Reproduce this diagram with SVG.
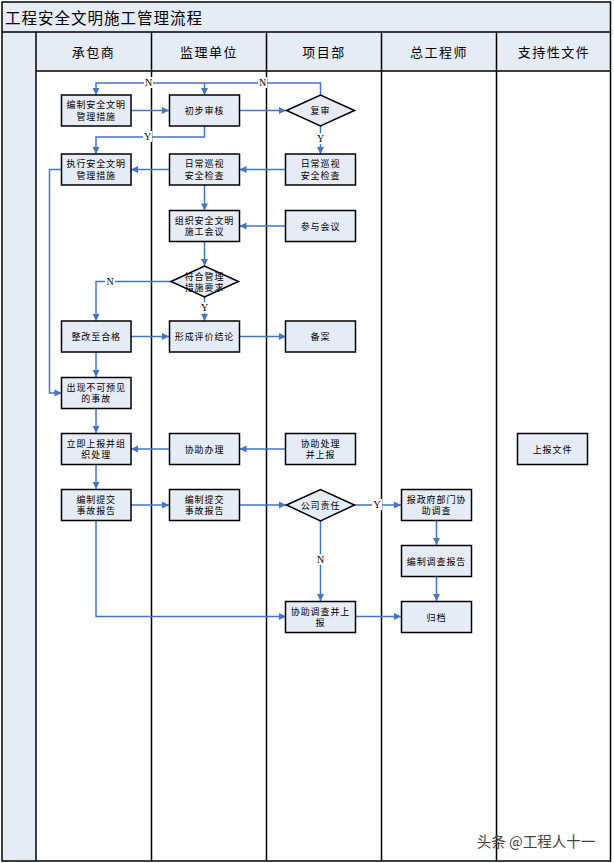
<svg xmlns="http://www.w3.org/2000/svg" width="614" height="863" viewBox="0 0 614 863">
<style>
.bg{fill:#e5ecf6}
.ln{stroke:#000;stroke-width:1.5;fill:none}
.box{fill:#e5ecf6;stroke:#000;stroke-width:1.5}
.bt{font-family:"Noto Sans CJK SC","Noto Sans",sans-serif;font-size:9px;fill:#000;text-anchor:middle;dominant-baseline:central;letter-spacing:0.9px}
.hd{font-family:"Noto Sans CJK SC","Noto Sans",sans-serif;font-size:13px;fill:#000;text-anchor:middle;dominant-baseline:central;letter-spacing:1.5px}
.c{stroke:#4574c4;stroke-width:1.5;fill:none}
.lb{font-family:"Liberation Serif",serif;font-size:10px;fill:#000;text-anchor:middle;dominant-baseline:central}
.lbg{fill:#fff}
</style>
<defs>
<marker id="ar" markerUnits="userSpaceOnUse" markerWidth="10" markerHeight="10" refX="8" refY="5" orient="auto">
<path d="M1,1.5 L8,5 L1,8.5 Z" fill="#4574c4"/>
</marker>
</defs>
<rect x="0" y="0" width="614" height="863" fill="#fff"/>
<g id="frame">
<rect class="bg" x="2" y="2" width="608.5" height="30"/>
<rect class="bg" x="2" y="32" width="34" height="829"/>
<rect class="bg" x="36" y="32" width="574.5" height="39"/>
<rect class="ln" x="2" y="2" width="608.5" height="859" stroke-width="2"/>
<line class="ln" x1="2" y1="32" x2="610.5" y2="32" stroke-width="2"/>
<line class="ln" x1="36" y1="71" x2="610.5" y2="71"/>
<line class="ln" x1="36" y1="32" x2="36" y2="861"/>
<line class="ln" x1="151.5" y1="32" x2="151.5" y2="861"/>
<line class="ln" x1="266.5" y1="32" x2="266.5" y2="861"/>
<line class="ln" x1="381.5" y1="32" x2="381.5" y2="861"/>
<line class="ln" x1="496.5" y1="32" x2="496.5" y2="861"/>
<text x="5" y="17" font-family="'Noto Sans CJK SC','Noto Sans',sans-serif" font-size="15.5" letter-spacing="1" dominant-baseline="central">工程安全文明施工管理流程</text>
<text class="hd" x="93.5" y="51.5">承包商</text>
<text class="hd" x="209" y="51.5">监理单位</text>
<text class="hd" x="324" y="51.5">项目部</text>
<text class="hd" x="439" y="51.5">总工程师</text>
<text class="hd" x="554" y="51.5">支持性文件</text>
</g>
<g id="connectors">
<path class="c" d="M320.5,95 V83 H96 V95" marker-end="url(#ar)"/>
<path class="c" d="M204.5,83 V95" marker-end="url(#ar)"/>
<path class="c" d="M131,110.5 H169" marker-end="url(#ar)"/>
<path class="c" d="M239.5,110.5 H286" marker-end="url(#ar)"/>
<path class="c" d="M204.5,126 V137 H96 V154" marker-end="url(#ar)"/>
<path class="c" d="M320.5,126 V154" marker-end="url(#ar)"/>
<path class="c" d="M286,169.5 H239.5" marker-end="url(#ar)"/>
<path class="c" d="M169,169.5 H131" marker-end="url(#ar)"/>
<path class="c" d="M204.5,185 V210.5" marker-end="url(#ar)"/>
<path class="c" d="M286,226 H239.5" marker-end="url(#ar)"/>
<path class="c" d="M204.5,241 V266" marker-end="url(#ar)"/>
<path class="c" d="M171,281.5 H96 V321" marker-end="url(#ar)"/>
<path class="c" d="M204.5,297 V321" marker-end="url(#ar)"/>
<path class="c" d="M131,336.5 H169" marker-end="url(#ar)"/>
<path class="c" d="M239.5,336.5 H286" marker-end="url(#ar)"/>
<path class="c" d="M96,352 V377" marker-end="url(#ar)"/>
<path class="c" d="M61.5,169.5 H49.5 V393 H61.5" marker-end="url(#ar)"/>
<path class="c" d="M96,408.5 V433" marker-end="url(#ar)"/>
<path class="c" d="M286,449 H239.5" marker-end="url(#ar)"/>
<path class="c" d="M169,449 H131" marker-end="url(#ar)"/>
<path class="c" d="M96,464.5 V489" marker-end="url(#ar)"/>
<path class="c" d="M131,505 H169" marker-end="url(#ar)"/>
<path class="c" d="M239.5,505 H286" marker-end="url(#ar)"/>
<path class="c" d="M354.5,505 H401" marker-end="url(#ar)"/>
<path class="c" d="M320.5,521 V601" marker-end="url(#ar)"/>
<path class="c" d="M436.5,521 V545" marker-end="url(#ar)"/>
<path class="c" d="M436.5,577 V601" marker-end="url(#ar)"/>
<path class="c" d="M96,521 V616.5 H286" marker-end="url(#ar)"/>
<path class="c" d="M355,616.5 H401" marker-end="url(#ar)"/>
<rect class="lbg" x="144" y="77" width="9" height="11"/><text class="lb" x="148.5" y="82.5">N</text>
<rect class="lbg" x="258" y="77" width="9" height="11"/><text class="lb" x="262.5" y="82.5">N</text>
<rect class="lbg" x="143" y="131" width="9" height="11"/><text class="lb" x="147.5" y="136.5">Y</text>
<rect class="lbg" x="316" y="133" width="9" height="11"/><text class="lb" x="320.5" y="138.5">Y</text>
<rect class="lbg" x="105" y="276" width="10" height="11"/><text class="lb" x="110" y="281.5">N</text>
<rect class="lbg" x="200" y="302" width="9" height="11"/><text class="lb" x="204.5" y="307.5">Y</text>
<rect class="lbg" x="372" y="499" width="10" height="11"/><text class="lb" x="377" y="504.5">Y</text>
<rect class="lbg" x="316" y="554" width="9" height="11"/><text class="lb" x="320.5" y="559.5">N</text>
</g>
<g id="n1"><rect class="box" x="61.5" y="95" width="69.5" height="31"/><text class="bt" x="96.2" y="104.5">编制安全文明</text><text class="bt" x="96.2" y="116">管理措施</text></g>
<g id="n2"><rect class="box" x="169.5" y="95" width="70" height="31"/><text class="bt" x="204.5" y="110.5">初步审核</text></g>
<g id="n3"><path class="box" d="M286.5,110.5 L320.5,95 L354.5,110.5 L320.5,126 Z"/><text class="bt" x="320.5" y="110.5">复审</text></g>
<g id="n4"><rect class="box" x="61.5" y="154" width="69.5" height="31"/><text class="bt" x="96.2" y="163.5">执行安全文明</text><text class="bt" x="96.2" y="175">管理措施</text></g>
<g id="n5"><rect class="box" x="169.5" y="154" width="70" height="31"/><text class="bt" x="204.5" y="163.5">日常巡视</text><text class="bt" x="204.5" y="175">安全检查</text></g>
<g id="n6"><rect class="box" x="285.5" y="154" width="70" height="31"/><text class="bt" x="320.5" y="163.5">日常巡视</text><text class="bt" x="320.5" y="175">安全检查</text></g>
<g id="n7"><rect class="box" x="169.5" y="210.5" width="70" height="31"/><text class="bt" x="204.5" y="220">组织安全文明</text><text class="bt" x="204.5" y="231.5">施工会议</text></g>
<g id="n8"><rect class="box" x="285.5" y="210.5" width="70" height="31"/><text class="bt" x="320.5" y="226">参与会议</text></g>
<g id="n9"><path class="box" d="M171,281.5 L204.5,266 L238.5,281.5 L204.5,297 Z"/><text class="bt" x="204.5" y="276">符合管理</text><text class="bt" x="204.5" y="287.5">措施要求</text></g>
<g id="n10"><rect class="box" x="61.5" y="321" width="69.5" height="31"/><text class="bt" x="96.2" y="336.5">整改至合格</text></g>
<g id="n11"><rect class="box" x="169.5" y="321" width="70" height="31"/><text class="bt" x="204.5" y="336.5">形成评价结论</text></g>
<g id="n12"><rect class="box" x="285.5" y="321" width="70" height="31"/><text class="bt" x="320.5" y="336.5">备案</text></g>
<g id="n13"><rect class="box" x="61.5" y="377.5" width="69.5" height="31"/><text class="bt" x="96.2" y="387">出现不可预见</text><text class="bt" x="96.2" y="398.5">的事故</text></g>
<g id="n14"><rect class="box" x="61.5" y="433.5" width="69.5" height="31"/><text class="bt" x="96.2" y="443">立即上报并组</text><text class="bt" x="96.2" y="454.5">织处理</text></g>
<g id="n15"><rect class="box" x="169.5" y="433.5" width="70" height="31"/><text class="bt" x="204.5" y="449">协助办理</text></g>
<g id="n16"><rect class="box" x="285.5" y="433.5" width="70" height="31"/><text class="bt" x="320.5" y="443">协助处理</text><text class="bt" x="320.5" y="454.5">并上报</text></g>
<g id="n17"><rect class="box" x="517.5" y="433.5" width="70" height="31"/><text class="bt" x="552.5" y="449">上报文件</text></g>
<g id="n18"><rect class="box" x="61.5" y="489.5" width="69.5" height="31"/><text class="bt" x="96.2" y="499">编制提交</text><text class="bt" x="96.2" y="510.5">事故报告</text></g>
<g id="n19"><rect class="box" x="169.5" y="489.5" width="70" height="31"/><text class="bt" x="204.5" y="499">编制提交</text><text class="bt" x="204.5" y="510.5">事故报告</text></g>
<g id="n20"><path class="box" d="M286.5,505 L320.5,489.5 L354.5,505 L320.5,521 Z"/><text class="bt" x="320.5" y="505">公司责任</text></g>
<g id="n21"><rect class="box" x="401.5" y="489.5" width="70" height="31"/><text class="bt" x="436.5" y="499">报政府部门协</text><text class="bt" x="436.5" y="510.5">助调查</text></g>
<g id="n22"><rect class="box" x="401.5" y="545.5" width="70" height="31"/><text class="bt" x="436.5" y="561">编制调查报告</text></g>
<g id="n23"><rect class="box" x="285.5" y="601.5" width="70" height="31"/><text class="bt" x="320.5" y="611">协助调查并上</text><text class="bt" x="320.5" y="622.5">报</text></g>
<g id="n24"><rect class="box" x="401.5" y="601.5" width="70" height="31"/><text class="bt" x="436.5" y="617">归档</text></g>
<text x="536" y="840" font-family="'Noto Sans CJK SC','Noto Sans',sans-serif" font-size="14.5" fill="#444" text-anchor="middle" dominant-baseline="central">头条 @工程人十一</text>
</svg>
